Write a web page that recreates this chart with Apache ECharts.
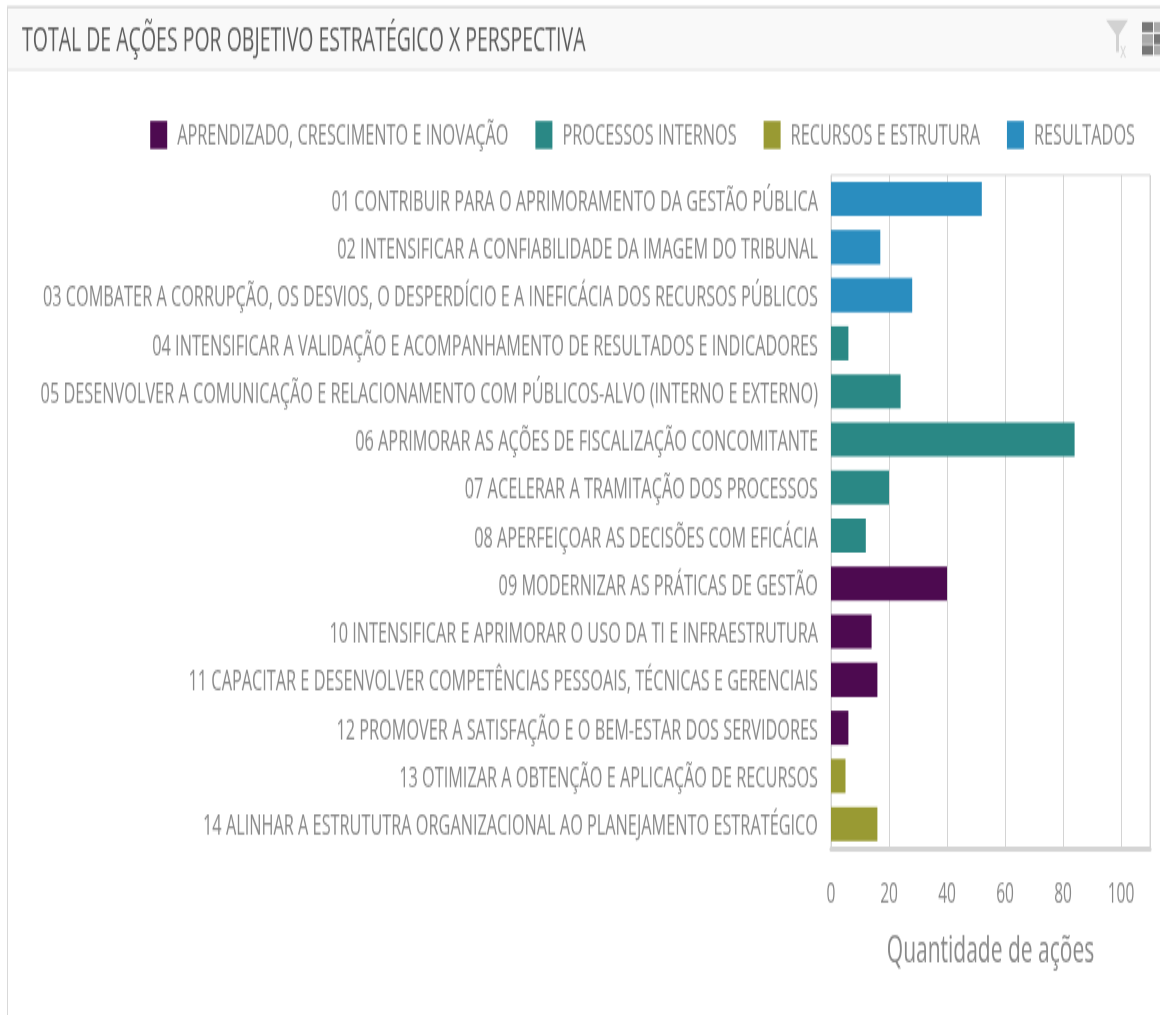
<!DOCTYPE html>
<html><head><meta charset="utf-8">
<style>
html,body{margin:0;padding:0;background:#fff;overflow:hidden;width:1160px;height:1015px}
#c{width:1160px;height:597px;transform:scaleY(1.7);transform-origin:0 0}
</style>
<script src="https://cdn.jsdelivr.net/npm/echarts@6/dist/echarts.min.js"></script>
</head><body><div id="c"></div>
<script>
const chartTitle = 'TOTAL DE AÇÕES POR OBJETIVO ESTRATÉGICO X PERSPECTIVA';
const axisName = 'Quantidade de ações';
const categories = [
 '01 CONTRIBUIR PARA O APRIMORAMENTO DA GESTÃO PÚBLICA',
 '02 INTENSIFICAR A CONFIABILIDADE DA IMAGEM DO TRIBUNAL',
 '03 COMBATER A CORRUPÇÃO, OS DESVIOS, O DESPERDÍCIO E A INEFICÁCIA DOS RECURSOS PÚBLICOS',
 '04 INTENSIFICAR A VALIDAÇÃO E ACOMPANHAMENTO DE RESULTADOS E INDICADORES',
 '05 DESENVOLVER A COMUNICAÇÃO E RELACIONAMENTO COM PÚBLICOS-ALVO (INTERNO E EXTERNO)',
 '06 APRIMORAR AS AÇÕES DE FISCALIZAÇÃO CONCOMITANTE',
 '07 ACELERAR A TRAMITAÇÃO DOS PROCESSOS',
 '08 APERFEIÇOAR AS DECISÕES COM EFICÁCIA',
 '09 MODERNIZAR AS PRÁTICAS DE GESTÃO',
 '10 INTENSIFICAR E APRIMORAR O USO DA TI E INFRAESTRUTURA',
 '11 CAPACITAR E DESENVOLVER COMPETÊNCIAS PESSOAIS, TÉCNICAS E GERENCIAIS',
 '12 PROMOVER A SATISFAÇÃO E O BEM-ESTAR DOS SERVIDORES',
 '13 OTIMIZAR A OBTENÇÃO E APLICAÇÃO DE RECURSOS',
 '14 ALINHAR A ESTRUTUTRA ORGANIZACIONAL AO PLANEJAMENTO ESTRATÉGICO'
];
const aprendizado = [null,null,null,null,null,null,null,null,40,14,16,6,null,null];
const processos   = [null,null,null,6,24,84,20,12,null,null,null,null,null,null];
const recursos    = [null,null,null,null,null,null,null,null,null,null,null,null,5,16];
const resultados  = [52,17,28,null,null,null,null,null,null,null,null,null,null,null];
const seriesNames = ['APRENDIZADO, CRESCIMENTO E INOVAÇÃO','PROCESSOS INTERNOS','RECURSOS E ESTRUTURA','RESULTADOS'];
const seriesColors = ['#4d0a50','#2a8885','#999a33','#2a8dbf'];
const seriesData = [aprendizado, processos, recursos, resultados];

const S = 1.7, Y = v => v / S;
const font = '"Open Sans"';
const gridTop = 175, gridBottom = 848;

// panel chrome: header band, borders, toolbar icons
const rect = (x, y, w, h, fill) => ({type:'rect', silent:true, shape:{x, y:Y(y), width:w, height:Y(h)}, style:{fill}});
const chrome = [
  rect(7, 7, 1153, 62, '#f9f9f9'),
  rect(7, 6, 1153, 2, '#d4d4d4'),
  rect(7, 69, 1153, 1.5, '#e2e2e2'),
  rect(7, 7, 1, 1008, '#d9d9d9'),
  {type:'polygon', silent:true, shape:{points:[[1106,Y(20)],[1128,Y(20)],[1119,Y(35)],[1119,Y(52)],[1116,Y(52)],[1116,Y(35)]]}, style:{fill:'#d2d2d2'}},
  {type:'text', silent:true, style:{x:1120, y:Y(42), text:'x', fill:'#d8d8d8', font:'12px '+font}},
];
[[1142,22,'#777'],[1154,22,'#aaa'],[1142,34,'#aaa'],[1154,34,'#777'],[1142,45,'#777'],[1154,45,'#aaa']].forEach(c=>{
  chrome.push(rect(c[0], c[1], 11, 10, c[2]));
});

const labelStyle = {fontFamily:font, fontSize:16.3, color:'#888', padding:[4,0,0,0]};
const legendStyle = {fontFamily:font, fontSize:16.3, color:'#888', padding:[2.5,0,0,5]};
const chart = echarts.init(document.getElementById('c'), null, {renderer:'canvas'});
chart.setOption({
  animation:false,
  backgroundColor:'#fff',
  title:{text:chartTitle, left:22, top:Y(24), padding:0, textStyle:{fontFamily:font, fontSize:19.5, fontWeight:'normal', color:'#5c5c5c'}},
  legend:{
    data:seriesNames, top:Y(121), right:25, padding:0, icon:'rect', itemWidth:17, itemHeight:Y(28), itemGap:27,
    selectedMode:false, formatter:'{a|{name}}',
    textStyle:{fontFamily:font, fontSize:16.3, color:'#888', rich:{a:legendStyle}}
  },
  grid:{left:831, right:10, top:Y(gridTop), height:Y(gridBottom-gridTop), show:true, borderColor:'#d8d8d8', borderWidth:1, backgroundColor:'transparent'},
  xAxis:{
    type:'value', min:0, max:110, interval:20,
    name:axisName, nameLocation:'middle', nameGap:Y(87),
    nameTextStyle:{fontFamily:font, fontSize:21, color:'#888'},
    axisLine:{show:true, onZero:false, lineStyle:{color:'#d5d5d5', width:3}},
    axisTick:{show:false},
    splitLine:{show:true, lineStyle:{color:'#d4d4d4', width:1}},
    axisLabel:{fontFamily:font, fontSize:15.5, color:'#888', margin:Y(33), showMaxLabel:false}
  },
  yAxis:{
    type:'category', inverse:true, data:categories,
    axisLine:{show:false}, axisTick:{show:false}, splitLine:{show:false},
    axisLabel:{margin:13, interval:0, formatter:v=>'{a|'+v+'}', rich:{a:labelStyle}}
  },
  series:seriesNames.map((n,i)=>({
    name:n, type:'bar', stack:'total', barWidth:'71%', data:seriesData[i],
    itemStyle:{color:seriesColors[i]}
  })),
  graphic:{elements:chrome}
});
</script></body></html>
